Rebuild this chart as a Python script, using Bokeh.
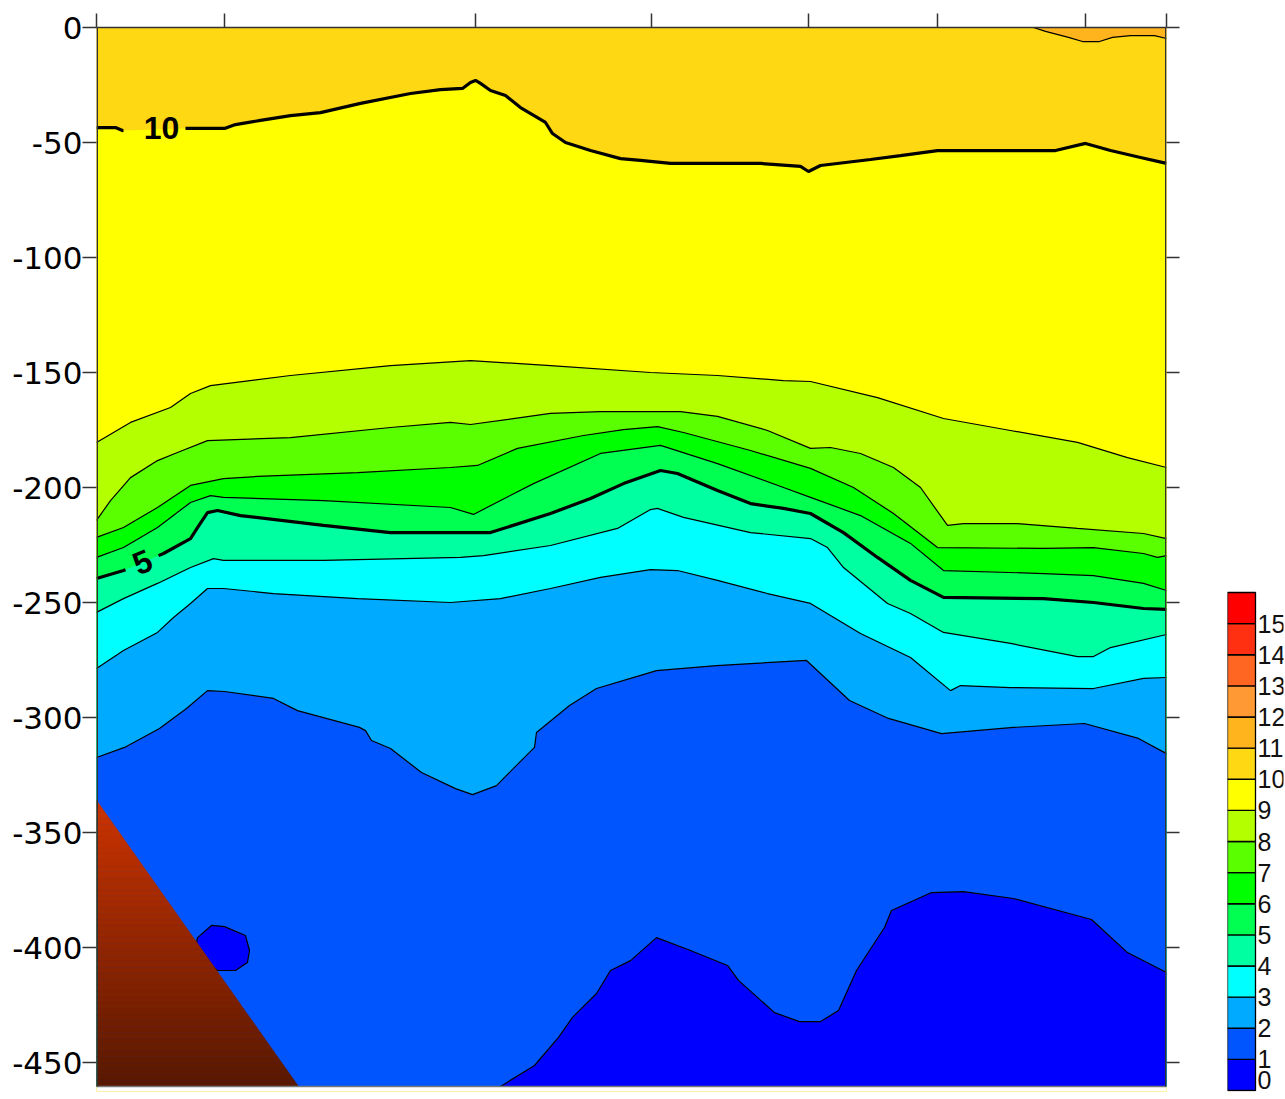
import numpy as np
from bokeh.plotting import figure
from bokeh.models import Range1d, LinearAxis, FixedTicker
from bokeh.layouts import row
from bokeh.embed import file_html
from bokeh.resources import INLINE
from bokeh.core.properties import value

# ---------------- data ----------------
X_MIN, X_MAX = 0.0, 107.0          # distance along section (km)
Z_BOT = -460.4                      # bottom of section (m)
Z_VIEW = -462.6                     # lower end of view (a thin white margin below the section)

stations_km = [0.0, 12.8, 37.9, 55.5, 71.2, 84.1, 98.9, 107.0]
depth_ticks = [0, -50, -100, -150, -200, -250, -300, -350, -400, -450]
depth_labels = ["0", "-50", "-100", "-150", "-200", "-250", "-300", "-350", "-400", "-450"]

levels = list(range(16))
level_colors = ["#0000FF", "#0055FF", "#00AAFF", "#00FFFF", "#00FFA0", "#00FF50",
                "#00FF00", "#5AFF00", "#B4FF00", "#FFFF00", "#FFD814", "#FFB41E",
                "#FF9933", "#FF6622", "#FF3012", "#FF0000"]

# isotherms (x in km, z in m)
t11_x = [93.7, 94.9, 97.2, 98.6, 100.3, 101.6, 103.4, 105.8, 107.0]
t11_z = [0.0, -1.7, -4.3, -6.1, -6.1, -4.3, -3.5, -3.5, -4.8]

t10_x = [0.0, 1.9, 2.6, 8.9, 12.8, 13.9, 16.4, 19.4, 22.4, 26.4, 31.4, 34.4, 36.6, 37.4, 37.9,
         38.4, 39.4, 40.9, 42.4, 44.9, 45.6, 46.9, 49.4, 52.4, 54.4, 57.4, 66.4, 70.4, 71.2,
         72.4, 77.4, 80.4, 84.1, 95.9, 98.9, 101.4, 104.4, 107.0]
t10_z = [-43.5, -43.5, -44.8, -43.9, -43.9, -42.2, -40.4, -38.3, -37.0, -33.0, -28.7, -27.0,
         -26.5, -23.9, -23.0, -24.3, -27.4, -29.6, -34.8, -41.3, -46.1, -50.0, -53.5, -57.0,
         -57.8, -59.1, -59.1, -60.4, -62.6, -60.0, -57.4, -55.7, -53.5, -53.5, -50.4, -53.5,
         -56.5, -59.1]

t9_x = [0.0, 3.4, 7.4, 9.4, 11.4, 19.4, 29.4, 37.4, 45.4, 55.4, 62.1, 68.7, 71.4, 78.1, 84.7,
        91.4, 98.1, 103.1, 107.0]
t9_z = [-180.4, -171.7, -165.2, -159.1, -155.7, -151.3, -147.0, -144.8, -147.0, -150.0, -151.3,
        -153.5, -153.9, -160.9, -170.0, -175.2, -180.4, -187.0, -191.3]

t8_x = [0.0, 1.4, 3.4, 6.1, 8.1, 11.1, 19.4, 29.4, 35.4, 37.4, 45.4, 50.4, 58.4, 62.1, 67.1,
        71.4, 73.4, 76.4, 79.7, 82.4, 85.1, 86.7, 92.1, 98.1, 104.7, 107.0]
t8_z = [-214.3, -205.7, -195.7, -188.3, -184.8, -179.6, -178.3, -173.9, -171.7, -172.6, -167.8,
        -167.0, -167.0, -169.1, -175.2, -183.0, -182.6, -185.2, -191.3, -200.0, -216.5, -215.7,
        -215.7, -217.8, -220.0, -222.2]

t7_x = [0.0, 2.7, 6.1, 9.4, 12.7, 16.1, 26.1, 35.4, 38.1, 42.1, 48.7, 52.7, 56.1, 58.7, 65.4,
        71.4, 75.7, 79.7, 84.1, 94.7, 99.7, 104.7, 106.1, 107.0]
t7_z = [-221.7, -217.4, -208.7, -199.1, -196.1, -195.2, -193.5, -191.3, -190.4, -183.0, -177.4,
        -174.8, -173.5, -176.1, -183.9, -191.7, -200.0, -211.3, -226.1, -226.5, -226.1, -228.7,
        -230.4, -229.6]

t6_x = [0.0, 2.7, 6.1, 9.4, 11.4, 12.7, 22.7, 35.4, 37.7, 43.7, 50.4, 56.4, 62.1, 68.7, 71.4,
        76.4, 81.4, 84.7, 94.7, 99.7, 104.7, 107.0]
t6_z = [-230.4, -226.1, -217.4, -206.5, -203.5, -204.3, -205.7, -208.7, -211.7, -198.3, -185.2,
        -181.7, -189.6, -200.0, -204.3, -212.2, -224.3, -236.1, -237.4, -238.3, -241.7, -244.8]

t5_x = [0.0, 2.7, 6.7, 9.4, 10.1, 11.1, 12.1, 14.4, 22.7, 29.4, 39.4, 45.4, 49.4, 52.7, 56.4,
        58.1, 62.1, 65.4, 68.7, 71.4, 74.7, 78.1, 81.4, 84.7, 94.7, 99.7, 104.7, 107.0]
t5_z = [-239.6, -236.1, -228.7, -222.2, -217.4, -210.9, -210.0, -212.2, -216.5, -219.6, -219.6,
        -211.3, -204.8, -198.3, -192.6, -193.9, -201.3, -207.0, -209.1, -211.3, -219.6, -230.4,
        -240.4, -247.8, -248.3, -250.0, -252.6, -253.0]

t4_x = [0.0, 2.7, 6.1, 9.4, 11.7, 12.7, 22.7, 36.4, 38.7, 45.4, 52.1, 55.4, 56.1, 58.7, 65.4,
        71.4, 73.1, 74.7, 79.1, 81.4, 84.7, 91.4, 98.1, 99.7, 101.4, 107.0]
t4_z = [-254.3, -248.3, -241.7, -234.8, -230.9, -231.7, -231.7, -230.4, -229.6, -225.2, -217.8,
        -209.6, -209.1, -213.0, -219.6, -222.2, -226.1, -234.8, -250.4, -254.8, -263.0, -267.8,
        -273.5, -273.5, -269.6, -263.9]

t3_x = [0.0, 2.7, 6.1, 7.7, 9.4, 11.1, 12.7, 17.7, 26.1, 35.4, 40.4, 45.4, 50.4, 55.4, 58.1,
        62.1, 67.1, 71.4, 76.4, 81.4, 85.4, 86.4, 91.4, 99.7, 104.7, 107.0]
t3_z = [-278.7, -270.9, -263.0, -256.5, -250.4, -243.9, -243.9, -246.1, -248.3, -250.0, -248.3,
        -243.9, -239.1, -235.7, -236.1, -240.4, -246.1, -250.4, -263.5, -273.9, -288.3, -286.1,
        -287.0, -287.4, -283.0, -282.6]

t2_x = [0.0, 2.8, 6.3, 9.0, 11.1, 12.8, 17.7, 20.1, 26.3, 26.9, 27.5, 29.4, 32.5, 35.9, 37.6,
        40.0, 41.8, 43.8, 44.0, 47.3, 50.0, 53.4, 56.0, 62.0, 71.0, 75.3, 79.2, 84.5, 91.7, 98.8,
        104.2, 107.0]
t2_z = [-317.4, -313.0, -304.8, -296.1, -288.3, -288.7, -291.7, -297.0, -304.3, -305.7, -310.0,
        -313.5, -323.9, -330.9, -333.5, -329.6, -321.7, -313.0, -306.5, -294.8, -287.4, -283.0,
        -279.6, -277.4, -275.2, -292.6, -300.4, -307.0, -304.3, -302.6, -309.1, -315.7]

t1_x = [40.4, 43.8, 46.2, 47.6, 50.0, 51.4, 53.4, 56.0, 59.4, 63.1, 64.2, 67.8, 70.3, 72.4, 74.2,
        76.0, 78.8, 79.5, 83.5, 86.7, 91.7, 99.5, 103.1, 107.0]
t1_z = [-460.4, -451.3, -439.1, -430.4, -420.0, -410.0, -405.7, -395.7, -401.3, -407.8, -414.3,
        -428.3, -432.2, -432.2, -427.4, -410.0, -391.3, -383.9, -376.1, -375.7, -378.7, -387.8,
        -402.2, -410.9]

# closed 1 degree contour (small cold patch)
blob_x = [10.1, 11.5, 12.8, 14.9, 15.3, 15.1, 13.9, 12.1, 11.1, 9.9]
blob_z = [-395.7, -390.4, -390.9, -394.8, -401.3, -406.5, -410.0, -410.0, -407.0, -400.4]

# sea floor (shelf slope)
bathy_x = [0.0, 20.2]
bathy_z = [-336.0, -460.4]

# contour labels: (level, x, z, angle deg, gap start, gap end)
label_10 = (10, 6.5, -43.5, 0.0, 2.7, 8.9)
label_5 = (5, 4.6, -232.5, 23.0, 2.9, 6.2)

# ---------------- main figure ----------------
H = 1097
p = figure(width=1206, height=H, x_range=Range1d(X_MIN, X_MAX), y_range=Range1d(Z_VIEW, 0),
           x_axis_location="above", toolbar_location=None, output_backend="svg",
           min_border_left=96, min_border_right=40, min_border_top=27, min_border_bottom=6)
p.background_fill_color = level_colors[10]
p.border_fill_color = "white"
p.outline_line_color = None
p.grid.visible = False

iso = {11: (t11_x, t11_z), 10: (t10_x, t10_z), 9: (t9_x, t9_z), 8: (t8_x, t8_z), 7: (t7_x, t7_z),
       6: (t6_x, t6_z), 5: (t5_x, t5_z), 4: (t4_x, t4_z), 3: (t3_x, t3_z), 2: (t2_x, t2_z),
       1: (t1_x, t1_z)}

# colder water lies below each isotherm: paint from warm to cold
for k in [10, 9, 8, 7, 6, 5, 4, 3, 2]:
    x, z = iso[k]
    p.patch(list(x) + [X_MAX, X_MIN], list(z) + [Z_BOT, Z_BOT],
            fill_color=level_colors[k - 1], line_color=None)
p.patch(list(t1_x) + [X_MAX], list(t1_z) + [Z_BOT], fill_color=level_colors[0], line_color=None)
p.patch(blob_x, blob_z, fill_color=level_colors[0], line_color=None)
p.patch(list(t11_x) + [X_MAX], list(t11_z) + [0.0], fill_color=level_colors[11], line_color=None)


def with_gap(x, z, g0, g1):
    x = np.asarray(x, float)
    z = np.asarray(z, float)
    z0 = np.interp(g0, x, z)
    z1 = np.interp(g1, x, z)
    xs = np.concatenate([x[x < g0], [g0, np.nan, g1], x[x > g1]])
    zs = np.concatenate([z[x < g0], [z0, np.nan, z1], z[x > g1]])
    return xs, zs


gaps = {10: label_10, 5: label_5}
for k, (x, z) in iso.items():
    if k in gaps:
        xs, zs = with_gap(x, z, gaps[k][4], gaps[k][5])
        p.line(xs, zs, line_color="black", line_width=3.2)
    else:
        p.line(x, z, line_color="black", line_width=1.2)
p.patch(blob_x, blob_z, fill_color=None, line_color="black", line_width=1.2)

# sea floor with vertical colour gradient
top_rgb = np.array([204, 51, 0])
bot_rgb = np.array([88, 24, 0])
nstrip = 48
zz = np.linspace(bathy_z[0], bathy_z[1], nstrip + 1)
for i in range(nstrip):
    za, zb = zz[i], zz[i + 1]
    xa = np.interp(-za, [-bathy_z[0], -bathy_z[1]], bathy_x)
    xb = np.interp(-zb, [-bathy_z[0], -bathy_z[1]], bathy_x)
    f = (i + 0.5) / nstrip
    c = tuple(int(round(v)) for v in top_rgb + (bot_rgb - top_rgb) * f)
    col = "#%02x%02x%02x" % c
    p.patch([X_MIN, xa, xb, X_MIN], [za, za, zb, zb], fill_color=col, line_color=col, line_width=0.6)

for lab in (label_10, label_5):
    p.text(x=[lab[1]], y=[lab[2]], text=[str(lab[0])], angle=np.deg2rad(lab[3]),
           text_align="center", text_baseline="middle", text_color="black",
           text_font=value("Liberation Sans"), text_font_size="32px", text_font_style="bold")

# white margin below the section and the frame lines
p.quad(left=X_MIN, right=X_MAX, bottom=Z_VIEW, top=Z_BOT, fill_color="white", line_color=None)
p.line([X_MIN, X_MAX], [Z_BOT, Z_BOT], line_color="#777777", line_width=1.6)
p.line([X_MIN + 0.07, X_MIN + 0.07], [0, Z_BOT], line_color="#333333", line_width=1.6)
p.line([X_MAX - 0.07, X_MAX - 0.07], [0, Z_BOT], line_color="#333333", line_width=1.6)

# axes
ax_top = p.xaxis[0]
ax_top.ticker = FixedTicker(ticks=[], minor_ticks=stations_km)
ax_top.major_tick_out = 0
ax_top.major_tick_in = 0
ax_top.minor_tick_out = 14
ax_top.minor_tick_in = 0
ax_top.axis_line_color = "#333333"
ax_top.axis_line_width = 1.6
ax_top.minor_tick_line_color = "#333333"
ax_top.minor_tick_line_width = 1.5

ax_left = p.yaxis[0]
ax_left.ticker = FixedTicker(ticks=depth_ticks)
ax_left.major_label_overrides = {t: s for t, s in zip(depth_ticks, depth_labels)}
ax_left.major_label_text_font = "DejaVu Sans"
ax_left.major_label_text_font_size = "31px"
ax_left.major_label_text_color = "black"
ax_left.major_label_standoff = 0
ax_left.major_tick_out = 14
ax_left.major_tick_in = 0
ax_left.minor_tick_out = 0
ax_left.minor_tick_in = 0
ax_left.axis_line_color = None
ax_left.major_tick_line_color = "#333333"
ax_left.major_tick_line_width = 1.5

ax_right = LinearAxis(ticker=FixedTicker(ticks=[], minor_ticks=depth_ticks))
ax_right.major_tick_out = 0
ax_right.major_tick_in = 0
ax_right.minor_tick_out = 13
ax_right.minor_tick_in = 0
ax_right.axis_line_color = None
ax_right.minor_tick_line_color = "#333333"
ax_right.minor_tick_line_width = 1.5
p.add_layout(ax_right, "right")

# ---------------- colour scale ----------------
PX_PER_LEVEL = 31.125
cb = figure(width=78, height=H, x_range=Range1d(0, 56),
            y_range=Range1d(-1 / PX_PER_LEVEL, 16 + 565 / PX_PER_LEVEL),
            toolbar_location=None, output_backend="svg", x_axis_location=None,
            y_axis_location=None, min_border_left=21, min_border_right=1,
            min_border_top=27, min_border_bottom=6)
cb.outline_line_color = None
cb.background_fill_color = "white"
cb.border_fill_color = "white"
cb.xgrid.visible = False
cb.ygrid.visible = False
cb.quad(left=0, right=28, bottom=levels, top=[v + 1 for v in levels], fill_color=level_colors,
        line_color="black", line_width=1.3)
# labels sit on the level boundaries; the lowest one is nudged up to stay beside the bar
label_y = [v if v > levels[0] else v + 0.33 for v in levels]
cb.text(x=30, y=label_y, text=[str(v) for v in levels], text_baseline="middle",
        text_align="left", text_color="#111111", text_font=value("Liberation Sans"),
        text_font_size="25px")

layout = row(p, cb)
open("out.html", "w").write(file_html(layout, INLINE))
